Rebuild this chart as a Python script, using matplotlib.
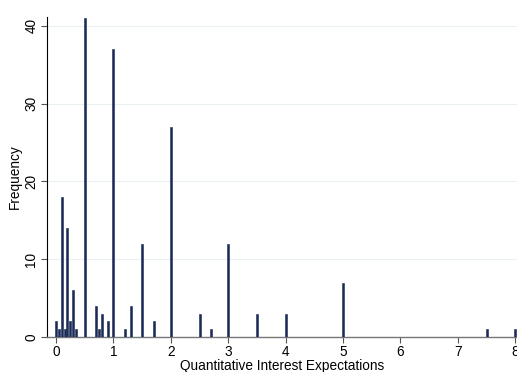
import matplotlib
matplotlib.use("Agg")
import matplotlib.pyplot as plt

# === DATA ===
values = [0, 0.05, 0.1, 0.15, 0.2, 0.25, 0.3, 0.35, 0.5, 0.7, 0.75, 0.8, 0.9, 1.0,
          1.2, 1.3, 1.5, 1.7, 2.0, 2.5, 2.7, 3.0, 3.5, 4.0, 5.0, 7.5, 8.0]
freq = [2, 1, 18, 1, 14, 2, 6, 1, 41, 4, 1, 3, 2, 37,
        1, 4, 12, 2, 27, 3, 1, 12, 3, 3, 7, 1, 1]
xticks = [0, 1, 2, 3, 4, 5, 6, 7, 8]
yticks = [0, 10, 20, 30, 40]

plt.rcParams['font.family'] = ['Liberation Sans', 'DejaVu Sans']

fig = plt.figure(figsize=(5.17, 3.72), dpi=100)
ax = fig.add_axes([0.0903, 0.094, 0.9097, 0.86])

ax.bar(values, freq, width=0.035, color="#1a2b55", edgecolor="#1a2b55", linewidth=0.4, zorder=3)

ax.set_xlim(-0.162, 8.03)
ax.set_ylim(0, 41.1)
ax.set_xticks(xticks)
ax.set_yticks(yticks)
ax.set_yticklabels([str(t) for t in yticks], rotation=90, va="center")
ax.tick_params(axis="both", labelsize=9.8, length=4, color="#555555", pad=2)
ax.grid(axis="y", color="#eaf0f0", linewidth=0.8, zorder=0)

for s in ["top", "right"]:
    ax.spines[s].set_visible(False)
ax.spines["left"].set_color("black")
ax.spines["left"].set_linewidth(0.8)
ax.spines["bottom"].set_color("#777777")
ax.spines["bottom"].set_linewidth(1.0)

ax.set_xlabel("Quantitative Interest Expectations", fontsize=9.8, labelpad=0)
ax.set_ylabel("Frequency", fontsize=9.8, labelpad=2)

plt.savefig("out.png", dpi=100)
